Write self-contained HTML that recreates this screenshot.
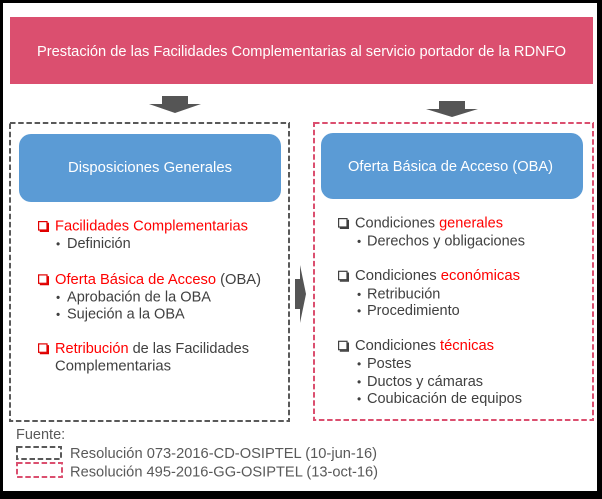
<!DOCTYPE html>
<html><head><meta charset="utf-8"><style>
html,body{margin:0;padding:0;background:#000;}
svg{display:block;}
text{font-family:"Liberation Sans",Arial,sans-serif;}
</style></head><body>
<svg width="602" height="499" viewBox="0 0 602 499" xmlns="http://www.w3.org/2000/svg">
<rect x="0" y="0" width="602" height="499" fill="#000"/>
<rect x="3" y="3" width="594" height="488" fill="#fff"/>

<!-- header -->
<rect x="10" y="17" width="583" height="67" fill="#DB4F6F"/>
<text x="37" y="56" font-size="15" fill="#fff" textLength="529" lengthAdjust="spacingAndGlyphs">Prestación de las Facilidades Complementarias al servicio portador de la RDNFO</text>

<!-- down arrows -->
<rect x="162" y="96" width="26" height="8.5" fill="#555"/>
<polygon points="149,104 201,104 175,113" fill="#555"/>
<rect x="439" y="101" width="26" height="8.5" fill="#555"/>
<polygon points="426,109 478,109 452,117" fill="#555"/>

<!-- dashed boxes -->
<rect x="10" y="123" width="279" height="298" fill="none" stroke="#595959" stroke-width="2" stroke-dasharray="5.5,2.7"/>
<rect x="314" y="123" width="279" height="297" fill="none" stroke="#DB4F6F" stroke-width="2" stroke-dasharray="5.5,2.7"/>

<!-- right arrow -->
<rect x="295" y="279" width="5.5" height="30" fill="#555"/>
<polygon points="300,265 300,323 306,294" fill="#555"/>

<!-- blue boxes -->
<rect x="19" y="134" width="262" height="68" rx="12" fill="#5B9BD5"/>
<text x="68" y="172" font-size="14.5" fill="#fff" textLength="164" lengthAdjust="spacingAndGlyphs">Disposiciones Generales</text>
<rect x="321" y="133" width="262" height="66" rx="12" fill="#5B9BD5"/>
<text x="348" y="171" font-size="14.5" fill="#fff" textLength="205" lengthAdjust="spacingAndGlyphs">Oferta Básica de Acceso (OBA)</text>

<!-- left checkboxes -->
<g fill="none" stroke="#E00000">
  <rect x="38.6" y="221.6" width="8.4" height="8.4" stroke-width="1.2"/>
  <path d="M48.2 222.8 V231.2 H39.8" stroke-width="1.6"/>
  <rect x="38.6" y="274.9" width="8.4" height="8.4" stroke-width="1.2"/>
  <path d="M48.2 276.1 V284.5 H39.8" stroke-width="1.6"/>
  <rect x="38.6" y="343.9" width="8.4" height="8.4" stroke-width="1.2"/>
  <path d="M48.2 345.1 V353.5 H39.8" stroke-width="1.6"/>
</g>
<g font-size="14.5" fill="#404040">
  <text x="55" y="230.7" fill="#FF0000" textLength="193" lengthAdjust="spacingAndGlyphs">Facilidades Complementarias</text>
  <text x="56" y="248" font-size="12">•</text>
  <text x="67" y="248">Definición</text>
  <text x="55" y="284" textLength="206" lengthAdjust="spacingAndGlyphs"><tspan fill="#FF0000">Oferta Básica de Acceso</tspan> (OBA)</text>
  <text x="56" y="301.7" font-size="12">•</text>
  <text x="67" y="301.7" textLength="144" lengthAdjust="spacingAndGlyphs">Aprobación de la OBA</text>
  <text x="56" y="318.5" font-size="12">•</text>
  <text x="67" y="318.5">Sujeción a la OBA</text>
  <text x="55" y="353" textLength="194" lengthAdjust="spacingAndGlyphs"><tspan fill="#FF0000">Retribución</tspan> de las Facilidades</text>
  <text x="55" y="370.7" textLength="116" lengthAdjust="spacingAndGlyphs">Complementarias</text>
</g>

<!-- right checkboxes -->
<g fill="none" stroke="#404040">
  <rect x="338.6" y="218.6" width="8.4" height="8.4" stroke-width="1.2"/>
  <path d="M348.2 219.8 V228.2 H339.8" stroke-width="1.6"/>
  <rect x="338.6" y="271.3" width="8.4" height="8.4" stroke-width="1.2"/>
  <path d="M348.2 272.5 V280.9 H339.8" stroke-width="1.6"/>
  <rect x="338.6" y="341.3" width="8.4" height="8.4" stroke-width="1.2"/>
  <path d="M348.2 342.5 V350.9 H339.8" stroke-width="1.6"/>
</g>
<g font-size="14.5" fill="#404040">
  <text x="355" y="227.3" textLength="148" lengthAdjust="spacingAndGlyphs">Condiciones <tspan fill="#FF0000">generales</tspan></text>
  <text x="357" y="245.7" font-size="12">•</text>
  <text x="367" y="245.7" textLength="158" lengthAdjust="spacingAndGlyphs">Derechos y obligaciones</text>
  <text x="355" y="280" textLength="165" lengthAdjust="spacingAndGlyphs">Condiciones <tspan fill="#FF0000">económicas</tspan></text>
  <text x="357" y="298.3" font-size="12">•</text>
  <text x="367" y="298.3">Retribución</text>
  <text x="357" y="315" font-size="12">•</text>
  <text x="367" y="315">Procedimiento</text>
  <text x="355" y="350" textLength="139" lengthAdjust="spacingAndGlyphs">Condiciones <tspan fill="#FF0000">técnicas</tspan></text>
  <text x="357" y="368" font-size="12">•</text>
  <text x="367" y="368">Postes</text>
  <text x="357" y="386" font-size="12">•</text>
  <text x="367" y="386">Ductos y cámaras</text>
  <text x="357" y="403" font-size="12">•</text>
  <text x="367" y="403" textLength="155" lengthAdjust="spacingAndGlyphs">Coubicación de equipos</text>
</g>

<!-- legend -->
<text x="16" y="439" font-size="14.5" fill="#595959">Fuente:</text>
<rect x="17" y="447" width="44" height="12" fill="none" stroke="#595959" stroke-width="2" stroke-dasharray="5.5,2.7"/>
<rect x="17" y="463" width="45" height="14" fill="none" stroke="#DB4F6F" stroke-width="2" stroke-dasharray="5.5,2.7"/>
<text x="70" y="458" font-size="14.5" fill="#595959" textLength="307" lengthAdjust="spacingAndGlyphs">Resolución 073-2016-CD-OSIPTEL (10-jun-16)</text>
<text x="70" y="476.7" font-size="14.5" fill="#595959" textLength="308" lengthAdjust="spacingAndGlyphs">Resolución 495-2016-GG-OSIPTEL (13-oct-16)</text>
</svg>
</body></html>
